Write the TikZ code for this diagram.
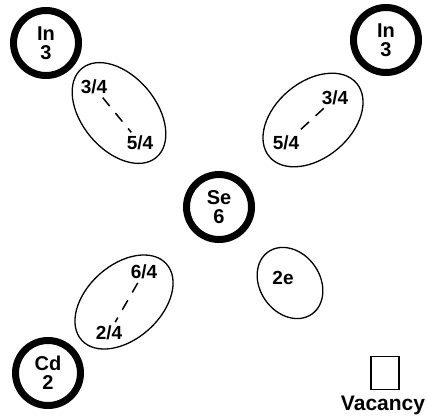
\documentclass[tikz,border=0pt]{standalone}
\usepackage{fontspec}
\setmainfont{Liberation Sans}
\usetikzlibrary{shapes.geometric}

\begin{document}
\begin{tikzpicture}[
  x=1pt,y=-1pt,
  every node/.style={font=\fontsize{19}{19}\selectfont\bfseries},
  atom/.style={draw, circle, line width=7pt, minimum size=65pt, inner sep=0pt, align=center,
    font=\fontsize{20}{19}\selectfont\bfseries},
  orbital/.style={draw, ellipse, line width=1.3pt, inner sep=0pt},
  share/.style={inner sep=1pt},
  pairline/.style={line width=1.5pt, dash pattern=on 11pt off 9pt, shorten <=3pt, shorten >=3pt}
]
\useasboundingbox (0,0) rectangle (427,417);

% atoms
\node[atom] (inleft) at (46,43) {In\\3};
\node[atom] (inright) at (386,40) {In\\3};
\node[atom] (se) at (219,207) {Se\\6};
\node[atom] (cd) at (48,373) {Cd\\2};

% bond orbitals
\node[orbital, minimum width=116pt, minimum height=74pt, rotate=-50] (bondtl) at (119,113) {};
\node[orbital, minimum width=114pt, minimum height=76pt, rotate=40] (bondtr) at (313,120) {};
\node[orbital, minimum width=114pt, minimum height=74pt, rotate=42] (bondbl) at (124,302) {};
\node[orbital, minimum width=76pt, minimum height=60pt, rotate=-55] (lonepair) at (290,283) {};

\node[share] (tlin) at (94,87) {3/4};
\node[share] (tlse) at (140,143) {5/4};
\node[share] (trin) at (335,98) {3/4};
\node[share] (trse) at (286,143) {5/4};
\node[share] (blse) at (144,272) {6/4};
\node[share] (blcd) at (109,333) {2/4};
\node[share] (twoe) at (283,278) {2e};

\draw[pairline] (tlin) -- (tlse);
\draw[pairline] (trin) -- (trse);
\draw[pairline] (blse) -- (blcd);

% legend
\node[draw, line width=1.5pt, minimum width=28pt, minimum height=33pt, inner sep=0pt] (vacbox) at (385,373) {};
\node[font=\fontsize{21}{21}\selectfont\bfseries] (vaclabel) at (383,405) {Vacancy};
\end{tikzpicture}
\end{document}
